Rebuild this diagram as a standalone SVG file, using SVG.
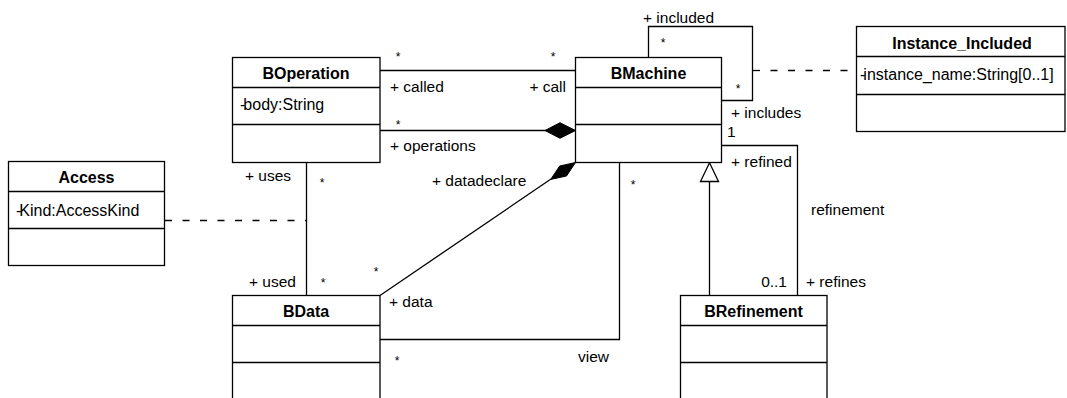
<svg xmlns="http://www.w3.org/2000/svg" width="1067" height="398" viewBox="0 0 1067 398">
<style>
.box{fill:#fff;stroke:#000;stroke-width:1.3}
.sep{stroke:#000;stroke-width:1.3}
.ln{fill:none;stroke:#000;stroke-width:1.3}
.dash{fill:none;stroke:#000;stroke-width:1.3;stroke-dasharray:7 10.5}
.name{font-family:"Liberation Sans",Arial,sans-serif;font-size:16px;font-weight:bold;text-anchor:middle;fill:#000}
.attr{font-family:"Liberation Sans",Arial,sans-serif;font-size:16px;fill:#000}
.lbl{font-family:"Liberation Sans",Arial,sans-serif;font-size:15.5px;fill:#000}
.star{font-family:"Liberation Sans",Arial,sans-serif;font-size:12px;fill:#000;text-anchor:middle}
</style>
<rect width="1067" height="398" fill="#fff"/>
<g id="connectors">
  <line class="ln" x1="380" y1="70.5" x2="575.5" y2="70.5"/>
  <line class="ln" x1="380" y1="130.5" x2="546" y2="130.5"/>
  <polygon points="575.5,130.5 560,122.7 545,130.5 560,138.3" fill="#000" stroke="#000" stroke-width="1"/>
  <line class="ln" x1="306.5" y1="162.5" x2="306.5" y2="295.5"/>
  <line class="dash" x1="165" y1="220.5" x2="306" y2="220.5"/>
  <polyline class="ln" points="648.5,57.5 648.5,26.5 752.5,26.5 752.5,100.5 721.5,100.5"/>
  <line class="dash" x1="753" y1="70.5" x2="856" y2="70.5"/>
  <polyline class="ln" points="721.5,145.5 797.5,145.5 797.5,295.5"/>
  <line class="ln" x1="709.5" y1="295.5" x2="709.5" y2="181.5"/>
  <polygon points="709.5,162.8 700.5,181.5 718.5,181.5" fill="#fff" stroke="#000" stroke-width="1.3"/>
  <line class="ln" x1="380" y1="295.5" x2="551" y2="179"/>
  <polygon points="575.5,162.5 566.5,176 550.7,179.4 559.7,166" fill="#000" stroke="#000" stroke-width="1"/>
  <polyline class="ln" points="619.5,162.5 619.5,339.5 380,339.5"/>
  <text class="star" x="398" y="61">*</text>
  <text class="star" x="553" y="61">*</text>
  <text class="star" x="398" y="129">*</text>
  <text class="lbl" x="390" y="92">+ called</text>
  <text class="lbl" x="566" y="92" text-anchor="end">+ call</text>
  <text class="lbl" x="390" y="151">+ operations</text>
  <text class="lbl" x="643" y="23">+ included</text>
  <text class="star" x="663" y="47">*</text>
  <text class="star" x="738" y="93">*</text>
  <text class="lbl" x="731" y="118">+ includes</text>
  <text class="lbl" x="727" y="137">1</text>
  <text class="lbl" x="731" y="167">+ refined</text>
  <text class="lbl" x="811" y="215">refinement</text>
  <text class="lbl" x="787" y="287" text-anchor="end">0..1</text>
  <text class="lbl" x="806" y="287">+ refines</text>
  <text class="lbl" x="432" y="186">+ datadeclare</text>
  <text class="star" x="633" y="189">*</text>
  <text class="lbl" x="389" y="307">+ data</text>
  <text class="star" x="376" y="276">*</text>
  <text class="star" x="397" y="365">*</text>
  <text class="lbl" x="578" y="362">view</text>
  <text class="lbl" x="245" y="181">+ uses</text>
  <text class="star" x="322" y="187">*</text>
  <text class="lbl" x="249" y="287">+ used</text>
  <text class="star" x="323" y="287">*</text>
</g>
<g id="BOperation">
  <rect class="box" x="232.5" y="57.5" width="147.5" height="105"/>
  <line class="sep" x1="232.5" y1="87.5" x2="380" y2="87.5"/>
  <line class="sep" x1="232.5" y1="124.5" x2="380" y2="124.5"/>
  <text class="name" x="306" y="79">BOperation</text>
  <text class="attr" x="240" y="110">-<tspan dx="-2">body:String</tspan></text>
</g>
<g id="BMachine">
  <rect class="box" x="575.5" y="57.5" width="146" height="105"/>
  <line class="sep" x1="575.5" y1="87.5" x2="721.5" y2="87.5"/>
  <line class="sep" x1="575.5" y1="124.5" x2="721.5" y2="124.5"/>
  <text class="name" x="648.5" y="79">BMachine</text>
</g>
<g id="Instance_Included">
  <rect class="box" x="856.5" y="26.5" width="208.5" height="105"/>
  <line class="sep" x1="856.5" y1="56.5" x2="1065" y2="56.5"/>
  <line class="sep" x1="856.5" y1="94.5" x2="1065" y2="94.5"/>
  <text class="name" x="962" y="49">Instance_Included</text>
  <text class="attr" x="860" y="80">-<tspan dx="-2">instance_name:String[0..1]</tspan></text>
</g>
<g id="Access">
  <rect class="box" x="8.5" y="161.5" width="156" height="104"/>
  <line class="sep" x1="8.5" y1="191.5" x2="164.5" y2="191.5"/>
  <line class="sep" x1="8.5" y1="228.5" x2="164.5" y2="228.5"/>
  <text class="name" x="86.5" y="183">Access</text>
  <text class="attr" x="16" y="216">-<tspan dx="-2">Kind:AccessKind</tspan></text>
</g>
<g id="BData">
  <rect class="box" x="232.5" y="295.5" width="147.5" height="120"/>
  <line class="sep" x1="232.5" y1="325.5" x2="380" y2="325.5"/>
  <line class="sep" x1="232.5" y1="362.5" x2="380" y2="362.5"/>
  <text class="name" x="306" y="317">BData</text>
</g>
<g id="BRefinement">
  <rect class="box" x="680.5" y="295.5" width="146.5" height="120"/>
  <line class="sep" x1="680.5" y1="325.5" x2="827" y2="325.5"/>
  <line class="sep" x1="680.5" y1="362.5" x2="827" y2="362.5"/>
  <text class="name" x="753.5" y="317">BRefinement</text>
</g>
</svg>
